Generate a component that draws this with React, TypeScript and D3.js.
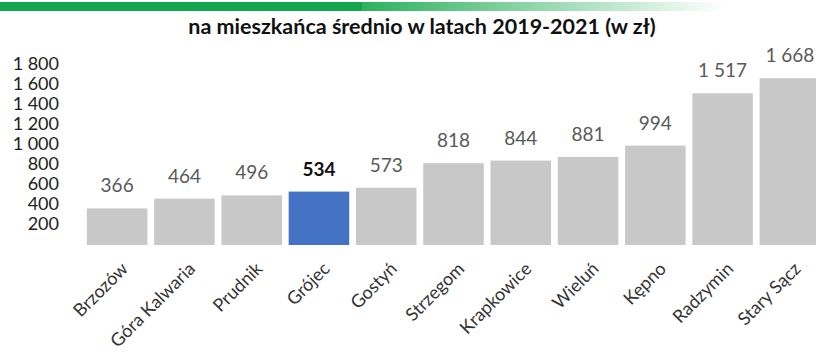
import React from "react";
import * as d3 from "d3";

const categories = ["Brzozów", "Góra Kalwaria", "Prudnik", "Grójec", "Gostyń", "Strzegom", "Krapkowice", "Wieluń", "Kępno", "Radzymin", "Stary Sącz"];
const values = [366, 464, 496, 534, 573, 818, 844, 881, 994, 1517, 1668];
const highlight = "Grójec";
const yTicks = [200, 400, 600, 800, 1000, 1200, 1400, 1600, 1800];
const title = "na mieszkańca średnio w latach 2019-2021 (w zł)";

const W = 816;
const H = 354;
const FONT = "Lato, 'Open Sans', sans-serif";

const fmt = (v: number) => {
  const s = String(v);
  return s.length > 3 ? s.slice(0, s.length - 3) + " " + s.slice(-3) : s;
};

export default function App() {
  const x = d3.scaleBand<string>().domain(categories).range([83.5, 823.5]).paddingInner(0.1).paddingOuter(0.05);
  const y = d3.scaleLinear().domain([0, 1800]).range([245, 65]);

  return (
    <svg width={W} height={H} style={{ position: "absolute", left: 0, top: 0, background: "#fff" }} fontFamily={FONT}>
      <defs>
        <linearGradient id="topbar" x1="0" x2="1" y1="0" y2="0">
          <stop offset="0" stopColor="#12a64e" />
          <stop offset="0.5" stopColor="#12a64e" />
          <stop offset="0.5" stopColor="#2cb25e" />
          <stop offset="1" stopColor="#ffffff" />
        </linearGradient>
      </defs>
      <rect x={0} y={2} width={725} height={9} fill="url(#topbar)" />
      <text x={422} y={34} textAnchor="middle" fontSize={21.5} fontWeight="bold" fill="#111">{title}</text>

      {yTicks.map((t) => (
        <text key={t} x={59} y={y(t) + 5} textAnchor="end" fontSize={18} fill="#222">{fmt(t)}</text>
      ))}

      {categories.map((c, i) => {
        const isH = c === highlight;
        const bx = x(c)!;
        const cx = bx + x.bandwidth() / 2;
        return (
          <g key={c}>
            <rect x={bx} y={y(values[i])} width={x.bandwidth()} height={y(0) - y(values[i])} fill={isH ? "#4472c4" : "#c8c8c8"} />
            <text x={cx} y={y(values[i]) - 16} textAnchor="middle" fontSize={19} fontWeight={isH ? "bold" : "normal"} fill={isH ? "#111" : "#595959"}>{fmt(values[i])}</text>
            <text transform={`translate(${cx + 3},${261}) rotate(-45)`} textAnchor="end" dy="0.7em" fontSize={18} fill="#333">{c}</text>
          </g>
        );
      })}
    </svg>
  );
}
